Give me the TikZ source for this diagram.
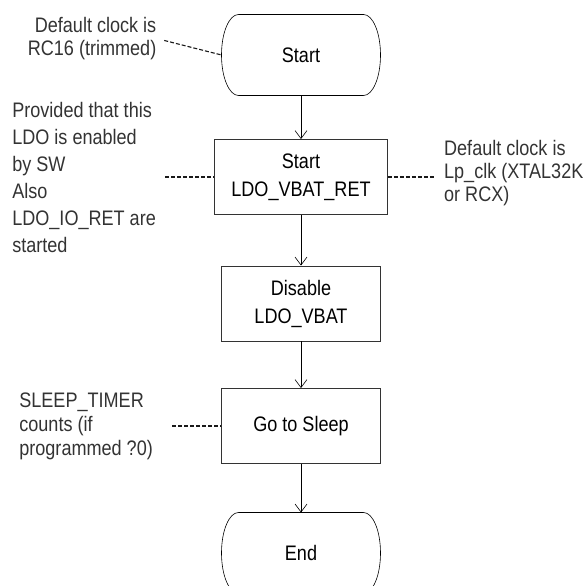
\documentclass[tikz,border=0pt]{standalone}
\usepackage{fontspec}
\setmainfont{Liberation Sans}[FakeStretch=0.86]
\usetikzlibrary{positioning, arrows.meta}

\tikzstyle{terminal} = [rectangle, minimum width=159pt, minimum height=81pt, outer sep=0pt, text centered, font=\fontsize{21}{28}\selectfont]
\tikzstyle{process} = [rectangle, minimum width=159pt, minimum height=75pt, text centered, align=center, draw=black!80, line width=0.9pt, font=\fontsize{21}{28}\selectfont]
\tikzstyle{note} = [inner sep=0pt, align=left, text=black!80, font=\fontsize{21}{23}\selectfont]
\tikzstyle{arrow} = [line width=0.6pt, -{Straight Barb[length=8pt,width=12pt]}]
\tikzstyle{link} = [line width=1.1pt, dash pattern=on 4pt off 2pt, draw=black!90]

% outline of a terminal node (flat top and bottom, elliptic ends)
\newcommand{\terminalborder}[1]{%
  \draw[line width=0.6pt] ([xshift=17pt]#1.north west) -- ([xshift=-17pt]#1.north east)
    arc[start angle=90, end angle=-90, x radius=17pt, y radius=40.5pt]
    -- ([xshift=17pt]#1.south west)
    arc[start angle=270, end angle=90, x radius=17pt, y radius=40.5pt] -- cycle;}

\begin{document}
\begin{tikzpicture}[x=1pt, y=1pt, node distance=124pt]

    \useasboundingbox (0,0) rectangle (587,-586);

    \node (start) [terminal] at (301,-55) {Start};
    \node (enableLdo) [process, below of=start, minimum width=173pt, yshift=2pt] {Start\\LDO\_VBAT\_RET};
    \node (disableLdo) [process, below of=enableLdo, yshift=-2.5pt] {Disable\\LDO\_VBAT};
    \node (sleep) [process, below of=disableLdo, yshift=1.5pt] {Go to Sleep};
    \node (end) [terminal, below of=sleep, yshift=-3pt] {End};
    \terminalborder{start}
    \terminalborder{end}

    \node (clockNote) [note, align=right, left=65pt of start, yshift=16.5pt] {Default clock is\\RC16 (trimmed)};
    \node (ldoNote) [note, left=58pt of enableLdo, font=\fontsize{21}{27}\selectfont] {Provided that this\\LDO is enabled\\by SW\\Also\\LDO\_IO\_RET are\\started};
    \node (lpclkNote) [note, right=56pt of enableLdo, yshift=4pt] {Default clock is\\Lp\_clk (XTAL32K\\or RCX)};
    \node (timerNote) [note, left=68pt of sleep, font=\fontsize{21}{24}\selectfont] {SLEEP\_TIMER\\counts (if\\programmed ?0)};

    \draw [arrow] (start) -- (enableLdo);
    \draw [arrow] (enableLdo) -- (disableLdo);
    \draw [arrow] (disableLdo) -- (sleep);
    \draw [arrow] (sleep) -- (end);

    \draw [link, shorten <=8pt] (clockNote.east) -- (start.west);
    \draw [link, shorten <=9pt] (ldoNote.east) -- (enableLdo.west);
    \draw [link, shorten >=10pt] (enableLdo.east) -- (enableLdo.east -| lpclkNote.west);
    \draw [link, shorten <=19pt] (timerNote.east) -- (sleep.west);

\end{tikzpicture}
\end{document}
